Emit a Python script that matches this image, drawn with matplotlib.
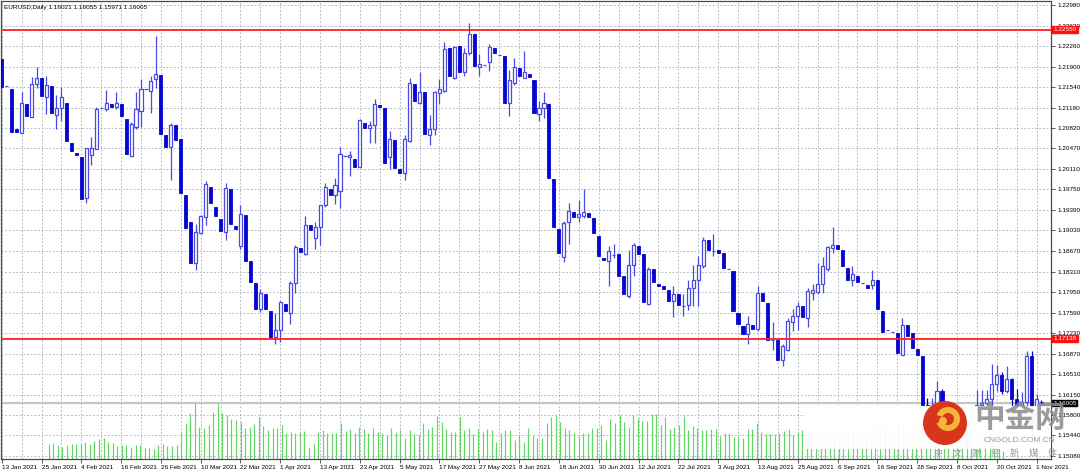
import matplotlib
matplotlib.use("Agg")
import matplotlib.pyplot as plt
import numpy as np
from matplotlib.patches import Rectangle, Circle, Wedge
from matplotlib.transforms import blended_transform_factory

plt.rcParams['font.family'] = ['Liberation Sans', 'DejaVu Sans']

# ---- data (EURUSD daily, 13 Jan 2021 .. 2 Nov 2021) ----
header = "EURUSD,Daily 1.16021 1.16055 1.15971 1.16005"

opens = [
    1.2203, 1.2156, 1.2151, 1.2081, 1.2074, 1.2125, 1.2101, 1.2160, 1.2170, 1.2136,
    1.2156, 1.2105, 1.2117, 1.2127, 1.2057, 1.2039, 1.2032, 1.1960, 1.2035, 1.2046,
    1.2118, 1.2116, 1.2124, 1.2119, 1.2125, 1.2099, 1.2034, 1.2085, 1.2113, 1.2151,
    1.2148, 1.2168, 1.2176, 1.2071, 1.2049, 1.2087, 1.2064, 1.1966, 1.1918, 1.1846,
    1.1899, 1.1926, 1.1979, 1.1945, 1.1924, 1.1900, 1.1976, 1.1911, 1.1876, 1.1931,
    1.1849, 1.1811, 1.1765, 1.1791, 1.1762, 1.1717, 1.1729, 1.1775, 1.1759, 1.1811,
    1.1873, 1.1862, 1.1912, 1.1890, 1.1909, 1.1947, 1.1976, 1.1965, 1.1973, 1.2034,
    1.2031, 1.2029, 1.2014, 1.2092, 1.2083, 1.2087, 1.2123, 1.2118, 1.2032, 1.2062,
    1.2011, 1.2004, 1.2060, 1.2159, 1.2126, 1.2146, 1.2071, 1.2081, 1.2144, 1.2148,
    1.2223, 1.2170, 1.2226, 1.2180, 1.2214, 1.2248, 1.2189, 1.2193, 1.2198, 1.2222,
    1.2211, 1.2209, 1.2126, 1.2161, 1.2187, 1.2171, 1.2177, 1.2167, 1.2107, 1.2118,
    1.2124, 1.1993, 1.1906, 1.1857, 1.1918, 1.1936, 1.1926, 1.1929, 1.1933, 1.1925,
    1.1894, 1.1855, 1.1849, 1.1860, 1.1861, 1.1823, 1.1789, 1.1843, 1.1876, 1.1861,
    1.1775, 1.1836, 1.1810, 1.1806, 1.1798, 1.1779, 1.1791, 1.1771, 1.1772, 1.1803,
    1.1817, 1.1841, 1.1886, 1.1867, 1.1868, 1.1863, 1.1835, 1.1832, 1.1759, 1.1735,
    1.1721, 1.1737, 1.1730, 1.1794, 1.1776, 1.1711, 1.1711, 1.1676, 1.1694, 1.1743,
    1.1754, 1.1771, 1.1750, 1.1794, 1.1796, 1.1809, 1.1835, 1.1873, 1.1878, 1.1868,
    1.1838, 1.1816, 1.1823, 1.1811, 1.1807, 1.1807, 1.1816, 1.1762, 1.1728, 1.1725,
    1.1724, 1.1685, 1.1738, 1.1724, 1.1695, 1.1683, 1.1598, 1.1580, 1.1596, 1.1621,
    1.1597, 1.1553, 1.1554, 1.1571, 1.1553, 1.1526, 1.1593, 1.1597, 1.1601, 1.1608,
    1.1634, 1.1650, 1.1622, 1.1643, 1.1607, 1.1598, 1.1603, 1.1683, 1.1559, 1.16021,
]
highs = [
    1.2203, 1.2156, 1.2151, 1.2081, 1.2146, 1.2125, 1.2172, 1.2190, 1.2170, 1.2174,
    1.2156, 1.2141, 1.2154, 1.2127, 1.2057, 1.2039, 1.2032, 1.2048, 1.2066, 1.2120,
    1.2118, 1.2149, 1.2124, 1.2145, 1.2125, 1.2099, 1.2093, 1.2145, 1.2168, 1.2151,
    1.2173, 1.2243, 1.2176, 1.2071, 1.2092, 1.2087, 1.2064, 1.1966, 1.1918, 1.1915,
    1.1931, 1.1989, 1.1979, 1.1945, 1.1924, 1.1986, 1.1976, 1.1911, 1.1947, 1.1931,
    1.1849, 1.1811, 1.1800, 1.1791, 1.1762, 1.1759, 1.1779, 1.1775, 1.1814, 1.1878,
    1.1873, 1.1928, 1.1912, 1.1918, 1.1948, 1.1986, 1.1976, 1.1995, 1.2049, 1.2034,
    1.2043, 1.2029, 1.2099, 1.2092, 1.2095, 1.2134, 1.2123, 1.2118, 1.2077, 1.2062,
    1.2011, 1.2070, 1.2171, 1.2159, 1.2180, 1.2146, 1.2106, 1.2148, 1.2169, 1.2233,
    1.2223, 1.2227, 1.2226, 1.2222, 1.2266, 1.2248, 1.2212, 1.2193, 1.2229, 1.2222,
    1.2211, 1.2209, 1.2184, 1.2205, 1.2187, 1.2218, 1.2177, 1.2167, 1.2129, 1.2146,
    1.2124, 1.1993, 1.1906, 1.1919, 1.1952, 1.1936, 1.1956, 1.1975, 1.1933, 1.1925,
    1.1894, 1.1855, 1.1876, 1.1880, 1.1861, 1.1823, 1.1868, 1.1881, 1.1876, 1.1861,
    1.1839, 1.1836, 1.1810, 1.1806, 1.1798, 1.1805, 1.1791, 1.1791, 1.1817, 1.1842,
    1.1858, 1.1892, 1.1886, 1.1897, 1.1868, 1.1863, 1.1835, 1.1832, 1.1759, 1.1735,
    1.1753, 1.1737, 1.1806, 1.1794, 1.1776, 1.1742, 1.1711, 1.1704, 1.1750, 1.1765,
    1.1778, 1.1771, 1.1803, 1.1809, 1.1846, 1.1857, 1.1876, 1.1909, 1.1878, 1.1868,
    1.1838, 1.1841, 1.1823, 1.1811, 1.1807, 1.1833, 1.1816, 1.1762, 1.1728, 1.1725,
    1.1724, 1.1750, 1.1738, 1.1724, 1.1695, 1.1683, 1.1609, 1.1609, 1.1640, 1.1625,
    1.1605, 1.1582, 1.1592, 1.1594, 1.1570, 1.1595, 1.1624, 1.1624, 1.1623, 1.1669,
    1.1668, 1.1656, 1.1665, 1.1645, 1.1625, 1.1620, 1.1692, 1.1692, 1.1616, 1.16055,
]
lows = [
    1.2155, 1.2156, 1.2075, 1.2076, 1.2074, 1.2104, 1.2101, 1.2152, 1.2138, 1.2107,
    1.2109, 1.2081, 1.2094, 1.2059, 1.2042, 1.2035, 1.1958, 1.1951, 1.2018, 1.2046,
    1.2118, 1.2112, 1.2119, 1.2116, 1.2104, 1.2037, 1.2034, 1.2081, 1.2085, 1.2151,
    1.2109, 1.2152, 1.2072, 1.2049, 1.1991, 1.2062, 1.1969, 1.1908, 1.1846, 1.1834,
    1.1897, 1.1913, 1.1952, 1.1928, 1.1902, 1.1886, 1.1915, 1.1906, 1.1870, 1.1849,
    1.1813, 1.1765, 1.1760, 1.1765, 1.1714, 1.1704, 1.1708, 1.1762, 1.1739, 1.1794,
    1.1866, 1.1860, 1.1903, 1.1870, 1.1877, 1.1945, 1.1966, 1.1950, 1.1943, 1.2034,
    1.1998, 1.2015, 1.2014, 1.2083, 1.2056, 1.2056, 1.2120, 1.2021, 1.2011, 1.2013,
    1.2004, 1.1992, 1.2058, 1.2130, 1.2124, 1.2072, 1.2052, 1.2071, 1.2124, 1.2145,
    1.2174, 1.2169, 1.2180, 1.2173, 1.2211, 1.2192, 1.2173, 1.2193, 1.2183, 1.2214,
    1.2211, 1.2126, 1.2103, 1.2158, 1.2173, 1.2170, 1.2172, 1.2109, 1.2094, 1.2100,
    1.1995, 1.1909, 1.1864, 1.1848, 1.1880, 1.1926, 1.1918, 1.1925, 1.1927, 1.1898,
    1.1858, 1.1851, 1.1806, 1.1855, 1.1824, 1.1791, 1.1784, 1.1824, 1.1861, 1.1777,
    1.1772, 1.1813, 1.1806, 1.1801, 1.1779, 1.1752, 1.1772, 1.1754, 1.1764, 1.1771,
    1.1770, 1.1838, 1.1869, 1.1858, 1.1864, 1.1837, 1.1835, 1.1762, 1.1739, 1.1721,
    1.1705, 1.1731, 1.1727, 1.1779, 1.1711, 1.1693, 1.1676, 1.1665, 1.1692, 1.1727,
    1.1728, 1.1751, 1.1734, 1.1782, 1.1791, 1.1793, 1.1832, 1.1864, 1.1871, 1.1841,
    1.1817, 1.1805, 1.1812, 1.1811, 1.1803, 1.1801, 1.1765, 1.1725, 1.1728, 1.1725,
    1.1688, 1.1685, 1.1718, 1.1698, 1.1685, 1.1598, 1.1563, 1.1570, 1.1580, 1.1580,
    1.1529, 1.1540, 1.1548, 1.1547, 1.1524, 1.1524, 1.1584, 1.1582, 1.1572, 1.1596,
    1.1621, 1.1617, 1.1619, 1.1589, 1.1585, 1.1590, 1.1586, 1.1535, 1.1558, 1.15971,
]
closes = [
    1.2155, 1.2156, 1.2075, 1.2076, 1.2127, 1.2104, 1.2159, 1.2170, 1.2138, 1.2158,
    1.2109, 1.2118, 1.2136, 1.2059, 1.2042, 1.2035, 1.1958, 1.2047, 1.2047, 1.2116,
    1.2118, 1.2127, 1.2119, 1.2126, 1.2104, 1.2037, 1.2089, 1.2116, 1.2151, 1.2151,
    1.2165, 1.2178, 1.2072, 1.2049, 1.2087, 1.2062, 1.1969, 1.1908, 1.1846, 1.1900,
    1.1929, 1.1984, 1.1952, 1.1928, 1.1902, 1.1978, 1.1915, 1.1906, 1.1932, 1.1849,
    1.1813, 1.1765, 1.1794, 1.1765, 1.1717, 1.1729, 1.1778, 1.1762, 1.1811, 1.1874,
    1.1866, 1.1912, 1.1903, 1.1909, 1.1947, 1.1979, 1.1966, 1.1982, 1.2037, 1.2034,
    1.2036, 1.2015, 1.2096, 1.2083, 1.2087, 1.2124, 1.2120, 1.2021, 1.2063, 1.2013,
    1.2004, 1.2064, 1.2162, 1.2130, 1.2146, 1.2072, 1.2081, 1.2145, 1.2151, 1.2221,
    1.2174, 1.2225, 1.2180, 1.2214, 1.2248, 1.2192, 1.2194, 1.2193, 1.2224, 1.2214,
    1.2211, 1.2126, 1.2167, 1.2189, 1.2173, 1.2180, 1.2172, 1.2109, 1.2117, 1.2126,
    1.1995, 1.1909, 1.1864, 1.1916, 1.1938, 1.1926, 1.1932, 1.1935, 1.1927, 1.1898,
    1.1858, 1.1851, 1.1867, 1.1860, 1.1824, 1.1791, 1.1843, 1.1877, 1.1861, 1.1777,
    1.1835, 1.1813, 1.1806, 1.1801, 1.1779, 1.1792, 1.1772, 1.1771, 1.1803, 1.1817,
    1.1843, 1.1886, 1.1869, 1.1867, 1.1864, 1.1837, 1.1835, 1.1762, 1.1739, 1.1721,
    1.1739, 1.1731, 1.1794, 1.1779, 1.1711, 1.1711, 1.1676, 1.1701, 1.1744, 1.1753,
    1.1771, 1.1751, 1.1797, 1.1799, 1.1809, 1.1840, 1.1874, 1.1877, 1.1871, 1.1841,
    1.1817, 1.1826, 1.1812, 1.1811, 1.1803, 1.1817, 1.1765, 1.1725, 1.1728, 1.1725,
    1.1688, 1.1737, 1.1718, 1.1698, 1.1685, 1.1598, 1.1580, 1.1596, 1.1621, 1.1597,
    1.1553, 1.1554, 1.1570, 1.1553, 1.1526, 1.1593, 1.1597, 1.1601, 1.1608, 1.1634,
    1.1650, 1.1622, 1.1643, 1.1607, 1.1598, 1.1603, 1.1683, 1.1559, 1.1607, 1.16005,
]
# tick volume, thousands
volumes = [
    15.0, 16.3, 14.0, 11.7, 14.0, 15.0, 15.0, 15.0, 17.3, 14.7,
    18.0, 19.7, 20.7, 17.3, 15.7, 13.3, 14.0, 14.0, 12.3, 14.0,
    14.0, 11.3, 11.3, 9.7, 14.0, 14.7, 13.3, 13.3, 14.0, 26.7,
    35.7, 45.7, 58.0, 31.7, 31.3, 34.0, 47.3, 57.3, 45.7, 44.0,
    40.0, 39.0, 37.3, 31.3, 32.3, 35.0, 41.7, 33.3, 29.0, 30.7,
    30.7, 34.0, 25.7, 26.7, 25.7, 27.3, 28.3, 12.3, 16.3, 26.7,
    29.0, 25.7, 26.3, 25.7, 35.7, 28.0, 29.7, 25.7, 32.3, 29.7,
    25.7, 31.3, 27.3, 26.3, 24.0, 30.7, 27.3, 29.0, 20.7, 29.0,
    24.7, 25.0, 35.7, 30.0, 32.3, 43.3, 37.3, 29.7, 27.3, 27.3,
    41.7, 29.0, 31.3, 25.0, 29.7, 27.3, 29.7, 29.0, 17.3, 25.7,
    29.0, 29.0, 19.0, 24.0, 17.3, 30.7, 24.0, 20.7, 20.7, 35.7,
    42.3, 44.0, 37.3, 30.7, 29.0, 25.7, 24.0, 25.7, 25.7, 31.3,
    30.7, 34.0, 19.0, 39.7, 36.3, 44.0, 37.3, 32.3, 44.0, 40.7,
    38.3, 38.0, 44.7, 44.7, 34.0, 41.7, 29.7, 32.3, 34.0, 43.3,
    29.0, 33.3, 30.7, 29.0, 29.0, 29.7, 30.0, 23.3, 26.3, 25.7,
    21.7, 22.3, 20.7, 29.7, 29.7, 36.3, 26.7, 25.0, 25.0, 25.0,
    25.7, 28.0, 30.0, 24.0, 27.0, 29.0, 31.0, 33.0, 22.0, 26.0,
    27.0, 25.0, 28.0, 24.0, 26.0, 27.0, 34.0, 36.0, 24.0, 26.0,
    33.0, 40.0, 38.0, 30.0, 29.0, 31.0, 42.0, 37.0, 30.0, 32.0,
    38.0, 35.0, 30.0, 29.0, 31.0, 34.0, 36.0, 30.0, 29.0, 28.0,
    32.0, 33.0, 31.0, 30.0, 28.0, 27.0, 29.0, 38.0, 40.0, 8.0,
]

date_labels = [
    "13 Jan 2021", "25 Jan 2021", "4 Feb 2021", "16 Feb 2021", "26 Feb 2021",
    "10 Mar 2021", "22 Mar 2021", "1 Apr 2021", "13 Apr 2021", "23 Apr 2021",
    "5 May 2021", "17 May 2021", "27 May 2021", "8 Jun 2021", "18 Jun 2021",
    "30 Jun 2021", "12 Jul 2021", "22 Jul 2021", "3 Aug 2021", "13 Aug 2021",
    "25 Aug 2021", "6 Sep 2021", "16 Sep 2021", "28 Sep 2021", "8 Oct 2021",
    "20 Oct 2021", "1 Nov 2021",
]
price_ticks = [
    1.22980, 1.22620, 1.22260, 1.21900, 1.21540, 1.21180, 1.20820, 1.20470,
    1.20110, 1.19750, 1.19390, 1.19030, 1.18670, 1.18310, 1.17950, 1.17590,
    1.17230, 1.16870, 1.16510, 1.16150, 1.15800, 1.15440, 1.15080,
]
levels = [1.22550, 1.17138]
bid = 1.16005

# ---- styling ----
W, H = 1080, 472
BEAR = '#0606cf'
BULL = '#4a4ae2'
GRID = '#9eaab8'
FS = 4.6

o = np.array(opens); h = np.array(highs); l = np.array(lows); c = np.array(closes)
x = np.arange(len(c))
up = c > o
dn = c < o
flat = c == o

fig = plt.figure(figsize=(W / 100, H / 100), dpi=100)
rect = [1 / W, (H - 459) / H, 1050 / W, 458 / H]

# volumes in the background
axv = fig.add_axes(rect, zorder=0)
axv.vlines(x, 0, volumes, color='#62d862', lw=0.85)
axv.set_ylim(0, 458)
axv.axis('off')

ax = fig.add_axes(rect, zorder=1)
ax.set_facecolor('none')
step = 4.975
ax.set_xlim(-0.7 / step, 1049.3 / step)
ax.set_ylim(1.2298 - 454 * 0.00017517, 1.2298 + 4 * 0.00017517)

# grid
ax.set_xticks(np.arange(0, len(c), 8))
ax.set_xticks(np.arange(4, len(c), 8), minor=True)
ax.set_xticklabels(date_labels)
for t in ax.get_xticklabels():
    t.set_horizontalalignment('left')
ax.set_yticks(price_ticks)
ax.set_yticklabels([f"{p:.5f}" for p in price_ticks])
ax.yaxis.tick_right()
ax.tick_params(axis='both', labelsize=FS, length=3, width=0.6, color='#404040', pad=1.5)
ax.tick_params(axis='x', which='minor', length=0)
ax.grid(True, which='both', color=GRID, lw=0.55, ls=(0, (2.4, 2.4)))
ax.set_axisbelow(True)
for s in ax.spines.values():
    s.set_color('#4a4a4a')
    s.set_linewidth(0.9)

# bid line
ax.axhline(bid, color='#c3c6ca', lw=1.6, zorder=1.5)

# candles
ax.vlines(x[~dn], l[~dn], h[~dn], color=BULL, lw=0.9, zorder=3)
ax.vlines(x[dn], l[dn], h[dn], color=BEAR, lw=0.9, zorder=3)
ax.bar(x[up], (c - o)[up], bottom=o[up], width=0.62, facecolor='white',
       edgecolor=BULL, linewidth=0.9, zorder=4)
ax.bar(x[dn], (o - c)[dn], bottom=c[dn], width=0.62, facecolor=BEAR,
       edgecolor=BEAR, linewidth=0.6, zorder=4)
ax.hlines(o[flat], x[flat] - 0.31, x[flat] + 0.31, color=BULL, lw=0.9, zorder=4)

# horizontal levels
for lv in levels:
    ax.axhline(lv, color='#ff2020', lw=1.3, zorder=5)

bt = blended_transform_factory(ax.transAxes, ax.transData)
for lv in levels:
    ax.text(1.002, lv, f"{lv:.5f}", transform=bt, fontsize=FS, color='white',
            va='center', ha='left', zorder=6,
            bbox=dict(boxstyle='square,pad=0.22', fc='#ff1010', ec='#ff1010'))
ax.text(1.002, bid, f"{bid:.5f}", transform=bt, fontsize=FS, color='white',
        va='center', ha='left', zorder=6,
        bbox=dict(boxstyle='square,pad=0.1', fc='black', ec='black'))

# overlay in pixel coordinates: header text and watermark
ov = fig.add_axes([0, 0, 1, 1], zorder=10)
ov.set_xlim(0, W)
ov.set_ylim(H, 0)
ov.axis('off')
ov.text(4, 7, header, fontsize=FS, color='black', va='center', ha='left')

ov.add_patch(Rectangle((805, 405.5), 246, 43.5, facecolor='white', edgecolor='none', alpha=0.97))
ov.add_patch(Circle((945, 423), 22, facecolor='#d8361b', edgecolor='none'))
ov.add_patch(Wedge((948, 419), 12, 200, 520, width=6, facecolor='#f3b53a'))
ov.add_patch(Circle((943, 421), 4, facecolor='#f3b53a'))
ov.text(1020, 418, "中金网", fontsize=22, fontweight='bold', color='#8a8a8a',
        family=['Noto Sans CJK SC'], ha='center', va='center', alpha=0.85)
ov.text(1019, 440, "CNGOLD.COM.CN", fontsize=6, color='#9a9a9a', ha='center', va='center')
ov.text(995, 453, "中     文     财     经     新     媒     体", fontsize=6.5,
        color='#a0a0a0', family=['Noto Sans CJK SC'], ha='center', va='center')

fig.savefig("out.png", dpi=100)
